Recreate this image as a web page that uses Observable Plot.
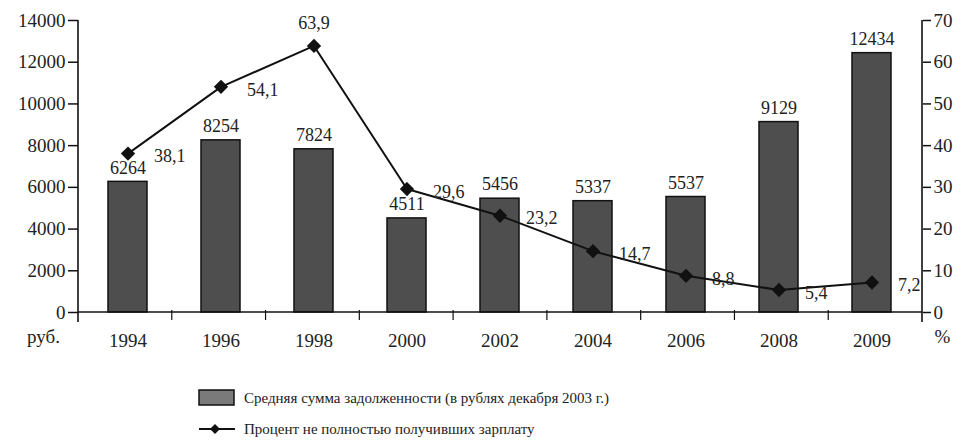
<!DOCTYPE html>
<html><head><meta charset="utf-8">
<script src="https://cdn.jsdelivr.net/npm/d3@7"></script>
<script src="https://cdn.jsdelivr.net/npm/@observablehq/plot@0.6"></script>
<style>
body{margin:0;background:#fff;font-family:"Liberation Serif","Tinos","Times New Roman","DejaVu Serif",serif;}
#wrap{position:relative;width:962px;height:441px;overflow:hidden;}
#wrap svg text{font-family:"Liberation Serif","Tinos","Times New Roman","DejaVu Serif",serif;}
.leg{position:absolute;left:198px;font-size:15px;color:#222;display:flex;align-items:center;white-space:nowrap;}
.leg svg{margin-right:8px;}
</style></head><body><div id="wrap"></div>
<script>
const years = ["1994","1996","1998","2000","2002","2004","2006","2008","2009"];
const debt = [6264, 8254, 7824, 4511, 5456, 5337, 5537, 9129, 12434];
const pct = [38.1, 54.1, 63.9, 29.6, 23.2, 14.7, 8.8, 5.4, 7.2];
const leftTicks = [0, 2000, 4000, 6000, 8000, 10000, 12000, 14000];
const rightTicks = [0, 10, 20, 30, 40, 50, 60, 70];
const leftUnit = "руб.";
const rightUnit = "%";
const legendLabels = ["Средняя сумма задолженности (в рублях декабря 2003 г.)", "Процент не полностью получивших зарплату"];

const FONT = '"Liberation Serif", "Tinos", "Times New Roman", "DejaVu Serif", serif';
const ratio = 14000 / 70;
const data = years.map((y, i) => ({year: y, debt: debt[i], pct: pct[i], pctScaled: pct[i] * ratio, label: pct[i].toFixed(1).replace(".", ",")}));
const peak = d3.maxIndex(pct);

const W = 962, H = 362, mL = 78, mR = 40, mT = 20, mB = 50;

function frameLines(index, scales, values, dim) {
  const g = d3.create("svg:g").attr("stroke", "#111").attr("stroke-width", 1.6).attr("fill", "none");
  const x0 = dim.marginLeft, x1 = dim.width - dim.marginRight;
  const y0 = dim.height - dim.marginBottom, yt = dim.marginTop;
  g.append("line").attr("x1", x0).attr("x2", x1).attr("y1", y0).attr("y2", y0);
  g.append("line").attr("x1", x0).attr("x2", x0).attr("y1", yt).attr("y2", y0 + 10);
  g.append("line").attr("x1", x1).attr("x2", x1).attr("y1", yt).attr("y2", y0 + 10);
  const n = years.length, step = (x1 - x0) / n;
  for (let i = 1; i < n; i++) {
    const bx = x0 + i * step;
    g.append("line").attr("x1", bx).attr("x2", bx).attr("y1", y0 - 2).attr("y2", y0 + 8).attr("stroke-width", 1.2);
  }
  return g.node();
}

const chart = Plot.plot({
  width: W, height: H,
  marginLeft: mL, marginRight: mR, marginTop: mT, marginBottom: mB,
  style: {fontFamily: FONT, background: "#fff", color: "#222"},
  x: {type: "band", domain: years, paddingInner: 0.58, paddingOuter: 0.29, label: null},
  y: {domain: [0, 14000], label: null},
  marks: [
    Plot.barY(data, {x: "year", y: "debt", fill: "#4e4e4e", stroke: "#111", strokeWidth: 1.5}),
    Plot.text(data, {x: "year", y: "debt", text: d => String(d.debt), dy: -14, fontSize: 18, fontFamily: FONT, fill: "#222"}),
    Plot.line(data, {x: "year", y: "pctScaled", stroke: "#111", strokeWidth: 2}),
    Plot.dot(data, {x: "year", y: "pctScaled", symbol: "diamond2", r: 5.5, fill: "#111", stroke: "#111"}),
    Plot.text(data.filter((d, i) => i !== peak), {x: "year", y: "pctScaled", text: "label", textAnchor: "start", dx: 26, dy: 3, fontSize: 18, fontFamily: FONT, fill: "#222"}),
    Plot.text(data.filter((d, i) => i === peak), {x: "year", y: "pctScaled", text: "label", dy: -23, fontSize: 18, fontFamily: FONT, fill: "#222"}),
    frameLines,
    Plot.axisY(leftTicks, {anchor: "left", label: null, tickSize: 10, tickPadding: 3, tickFormat: d => String(d), fontSize: 19, fontFamily: FONT, stroke: "#111", strokeWidth: 1.5}),
    Plot.axisY(rightTicks.map(v => v * ratio), {anchor: "right", label: null, tickSize: 8, tickPadding: 3, tickFormat: d => String(d / ratio), fontSize: 19, fontFamily: FONT, stroke: "#111", strokeWidth: 1.5}),
    Plot.axisX({anchor: "bottom", label: null, tickSize: 0, tickPadding: 21, fontSize: 19, fontFamily: FONT, fill: "#222"}),
    Plot.text([leftUnit], {frameAnchor: "bottom-left", textAnchor: "middle", dx: -35, dy: 30, fontSize: 19, fontFamily: FONT, fill: "#222"}),
    Plot.text([rightUnit], {frameAnchor: "bottom-right", textAnchor: "middle", dx: 20, dy: 30, fontSize: 19, fontFamily: FONT, fill: "#222"})
  ]
});
const wrap = document.getElementById("wrap");
wrap.appendChild(chart);

const l1 = document.createElement("div");
l1.className = "leg"; l1.style.top = "389px";
l1.innerHTML = `<svg width="38" height="18"><rect x="1" y="1" width="35" height="15" fill="#7a7a7a" stroke="#111" stroke-width="1.5"/></svg><span></span>`;
l1.querySelector("span").textContent = legendLabels[0];
wrap.appendChild(l1);
const l2 = document.createElement("div");
l2.className = "leg"; l2.style.top = "420px";
l2.innerHTML = `<svg width="38" height="18"><line x1="1" x2="37" y1="9" y2="9" stroke="#111" stroke-width="2"/><path d="M17,4 L22,9 L17,14 L12,9 Z" fill="#111"/></svg><span></span>`;
l2.querySelector("span").textContent = legendLabels[1];
wrap.appendChild(l2);
</script>
</body></html>
